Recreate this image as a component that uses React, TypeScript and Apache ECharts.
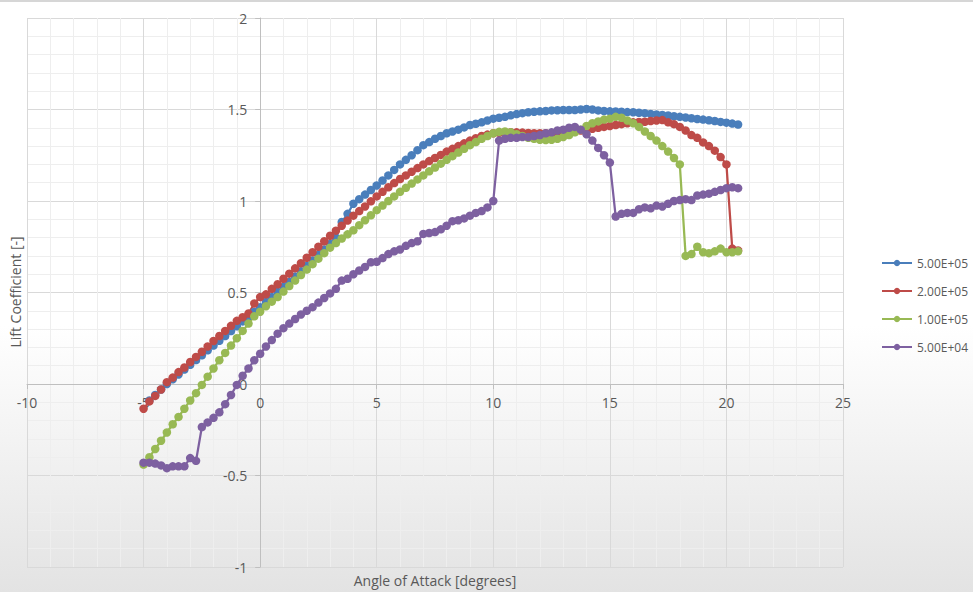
import React, { useEffect, useRef } from "react";
import * as echarts from "echarts";

// Angle of attack [degrees] shared by all four Reynolds-number sweeps
const alpha = [
  -5, -4.75, -4.5, -4.25,
  -4, -3.75, -3.5, -3.25,
  -3, -2.75, -2.5, -2.25,
  -2, -1.75, -1.5, -1.25,
  -1, -0.75, -0.5, -0.25,
  0, 0.25, 0.5, 0.75,
  1, 1.25, 1.5, 1.75,
  2, 2.25, 2.5, 2.75,
  3, 3.25, 3.5, 3.75,
  4, 4.25, 4.5, 4.75,
  5, 5.25, 5.5, 5.75,
  6, 6.25, 6.5, 6.75,
  7, 7.25, 7.5, 7.75,
  8, 8.25, 8.5, 8.75,
  9, 9.25, 9.5, 9.75,
  10, 10.25, 10.5, 10.75,
  11, 11.25, 11.5, 11.75,
  12, 12.25, 12.5, 12.75,
  13, 13.25, 13.5, 13.75,
  14, 14.25, 14.5, 14.75,
  15, 15.25, 15.5, 15.75,
  16, 16.25, 16.5, 16.75,
  17, 17.25, 17.5, 17.75,
  18, 18.25, 18.5, 18.75,
  19, 19.25, 19.5, 19.75,
  20, 20.25, 20.5,
];

const cl500k = [
  null, -0.09, -0.06, -0.03,
  0.0, 0.026, 0.052, 0.079,
  0.105, 0.131, 0.157, 0.184,
  0.21, 0.236, 0.262, 0.289,
  0.315, 0.342, 0.368, 0.394,
  0.42, 0.448, 0.475, 0.503,
  0.53, 0.558, 0.587, 0.616,
  0.645, 0.675, 0.705, 0.735,
  0.765, 0.8, 0.885, 0.93,
  0.985, 1.01, 1.035, 1.06,
  1.085, 1.112, 1.14, 1.17,
  1.2, 1.225, 1.25, 1.278,
  1.305, 1.322, 1.34, 1.355,
  1.37, 1.38, 1.39, 1.402,
  1.415, 1.422, 1.43, 1.44,
  1.45, 1.455, 1.46, 1.468,
  1.475, 1.48, 1.485, 1.488,
  1.49, 1.492, 1.495, 1.496,
  1.497, 1.497, 1.497, 1.5,
  1.503, 1.5, 1.495, 1.492,
  1.49, 1.489, 1.488, 1.486,
  1.485, 1.482, 1.48, 1.476,
  1.473, 1.47, 1.467, 1.463,
  1.46, 1.456, 1.452, 1.448,
  1.445, 1.441, 1.437, 1.432,
  1.428, 1.423, 1.418,
];

const cl200k = [
  -0.135, -0.095, -0.065, -0.03,
  0.01, 0.035, 0.065, 0.09,
  0.12, 0.148, 0.176, 0.205,
  0.235, 0.262, 0.29, 0.318,
  0.345, 0.365, 0.385, 0.44,
  0.475, 0.49, 0.52, 0.545,
  0.575, 0.603, 0.632, 0.66,
  0.69, 0.72, 0.75, 0.78,
  0.81, 0.838, 0.865, 0.893,
  0.92, 0.945, 0.97, 0.998,
  1.025, 1.05, 1.075, 1.098,
  1.12, 1.14, 1.16, 1.18,
  1.2, 1.218, 1.235, 1.252,
  1.27, 1.285, 1.3, 1.315,
  1.33, 1.343, 1.355, 1.363,
  1.37, 1.373, 1.375, 1.376,
  1.375, 1.374, 1.372, 1.37,
  1.37, 1.37, 1.37, 1.372,
  1.375, 1.378, 1.38, 1.385,
  1.39, 1.395, 1.4, 1.405,
  1.41, 1.415, 1.42, 1.425,
  1.43, 1.432, 1.433, 1.437,
  1.44, 1.442, 1.43, 1.42,
  1.405, 1.385, 1.36, 1.345,
  1.32, 1.3, 1.275, 1.24,
  1.2, 0.74, 0.73,
];

const cl100k = [
  -0.44, -0.4, -0.355, -0.31,
  -0.265, -0.22, -0.18, -0.135,
  -0.09, -0.05, -0.005, 0.04,
  0.085, 0.13, 0.17, 0.21,
  0.25, 0.29, 0.33, 0.37,
  0.395, 0.425, 0.45, 0.475,
  0.505, 0.535, 0.565, 0.595,
  0.625, 0.655, 0.685, 0.715,
  0.745, 0.77, 0.795, 0.818,
  0.84, 0.868, 0.895, 0.922,
  0.95, 0.975, 1.0, 1.025,
  1.05, 1.072, 1.095, 1.118,
  1.14, 1.162, 1.183, 1.204,
  1.225, 1.245, 1.265, 1.285,
  1.305, 1.322, 1.34, 1.355,
  1.37, 1.378, 1.38, 1.375,
  1.365, 1.355, 1.345, 1.34,
  1.335, 1.333, 1.335, 1.34,
  1.35, 1.36, 1.375, 1.39,
  1.41, 1.425, 1.435, 1.445,
  1.45, 1.46, 1.455, 1.44,
  1.425, 1.405, 1.38, 1.355,
  1.33, 1.3, 1.27, 1.235,
  1.2, 0.7, 0.71, 0.75,
  0.72, 0.715, 0.725, 0.74,
  0.72, 0.72, 0.725,
];

const cl50k = [
  -0.43, -0.43, -0.435, -0.445,
  -0.46, -0.45, -0.45, -0.45,
  -0.405, -0.42, -0.235, -0.21,
  -0.185, -0.155, -0.11, -0.06,
  -0.005, 0.045, 0.085, 0.13,
  0.165, 0.205, 0.24, 0.275,
  0.305, 0.33, 0.355, 0.38,
  0.4, 0.42, 0.445, 0.47,
  0.495, 0.52, 0.565, 0.575,
  0.6, 0.62, 0.64, 0.665,
  0.668, 0.688, 0.71, 0.725,
  0.735, 0.755, 0.77, 0.78,
  0.82, 0.825, 0.83, 0.845,
  0.865, 0.89, 0.895, 0.905,
  0.92, 0.935, 0.945, 0.965,
  1.0, 1.33, 1.34, 1.345,
  1.345, 1.35, 1.35, 1.355,
  1.36, 1.37, 1.375, 1.385,
  1.39, 1.4, 1.405, 1.39,
  1.365, 1.33, 1.29, 1.25,
  1.21, 0.915, 0.93, 0.935,
  0.935, 0.955, 0.965, 0.96,
  0.975, 0.97, 0.985, 1.0,
  1.005, 1.01, 1.005, 1.03,
  1.035, 1.04, 1.05, 1.06,
  1.07, 1.075, 1.07,
];

const seriesNames = ["5.00E+05", "2.00E+05", "1.00E+05", "5.00E+04"];
const seriesValues = [cl500k, cl200k, cl100k, cl50k];
const seriesColors = ["#4A7EBB", "#BE4B48", "#98B954", "#7D60A0"];

const xTitle = "Angle of Attack [degrees]";
const yTitle = "Lift Coefficient [-]";

const FONT = '"Open Sans", "DejaVu Sans", sans-serif';

// plot-area geometry (pixels)
const GRID_LEFT = 27;
const GRID_RIGHT = 130;
const GRID_TOP = 18;
const GRID_BOTTOM = 25;
const X_MIN = -10;
const X_MAX = 25;
const Y_MIN = -1;
const Y_MAX = 2;

export default function App() {
  const ref = useRef<HTMLDivElement>(null);

  useEffect(() => {
    if (!ref.current) return;
    const chart = echarts.init(ref.current, null, { renderer: "svg" });

    const plotW = 973 - GRID_LEFT - GRID_RIGHT;
    const plotH = 592 - GRID_TOP - GRID_BOTTOM;
    // shift axes so that they cross at zero (Excel style)
    const xAxisOffset = -((0 - Y_MIN) / (Y_MAX - Y_MIN)) * plotH;
    const yAxisOffset = -((0 - X_MIN) / (X_MAX - X_MIN)) * plotW;

    const series = seriesNames.map((name, i) => ({
      name,
      type: "line",
      data: alpha
        .map((a, j) => [a, seriesValues[i][j]])
        .filter((p) => p[1] !== null),
      symbol: "circle",
      symbolSize: 8.5,
      showAllSymbol: true,
      lineStyle: { width: 2.25, color: seriesColors[i] },
      itemStyle: { color: seriesColors[i] },
      emphasis: { disabled: true },
    }));

    chart.setOption({
      animation: false,
      textStyle: { fontFamily: FONT },
      backgroundColor: new echarts.graphic.LinearGradient(0, 0, 0, 1, [
        { offset: 0, color: "#ffffff" },
        { offset: 0.55, color: "#ffffff" },
        { offset: 1, color: "#e3e3e3" },
      ]),
      grid: {
        left: GRID_LEFT,
        right: GRID_RIGHT,
        top: GRID_TOP,
        bottom: GRID_BOTTOM,
        containLabel: false,
        outerBoundsMode: "none",
      },
      xAxis: {
        type: "value",
        min: X_MIN,
        max: X_MAX,
        interval: 5,
        position: "bottom",
        offset: xAxisOffset,
        axisLine: { show: true, onZero: false, lineStyle: { color: "#bfbfbf", width: 1 } },
        axisTick: { show: true, length: 5, lineStyle: { color: "#bfbfbf" } },
        axisLabel: { color: "#595959", fontSize: 14, margin: 11, fontFamily: FONT },
        splitLine: { show: true, lineStyle: { color: "#d9d9d9", width: 1 } },
        minorTick: { show: false, splitNumber: 5 },
        minorSplitLine: { show: true, lineStyle: { color: "#eeeeee", width: 1 } },
      },
      yAxis: {
        type: "value",
        min: Y_MIN,
        max: Y_MAX,
        interval: 0.5,
        position: "left",
        offset: yAxisOffset,
        axisLine: { show: true, onZero: false, lineStyle: { color: "#bfbfbf", width: 1 } },
        axisTick: { show: true, length: 5, lineStyle: { color: "#bfbfbf" } },
        axisLabel: { color: "#595959", fontSize: 14, margin: 13, fontFamily: FONT },
        splitLine: { show: true, lineStyle: { color: "#d9d9d9", width: 1 } },
        minorTick: { show: false, splitNumber: 5 },
        minorSplitLine: { show: true, lineStyle: { color: "#eeeeee", width: 1 } },
      },
      legend: {
        data: seriesNames,
        orient: "vertical",
        left: 876,
        top: 251,
        itemWidth: 30,
        itemHeight: 8,
        itemGap: 14,
        textStyle: { color: "#595959", fontSize: 12, lineHeight: 14, fontFamily: FONT },
      },
      graphic: [
        {
          type: "rect",
          shape: { x: 0, y: 0, width: 973, height: 2 },
          style: { fill: "#d6d6d6" },
          silent: true,
        },
        {
          type: "text",
          x: 435,
          y: 580,
          style: {
            text: xTitle,
            fill: "#595959",
            font: `14px ${FONT}`,
            textAlign: "center",
            textVerticalAlign: "middle",
          },
          silent: true,
        },
        {
          type: "text",
          x: 15,
          y: 292,
          rotation: Math.PI / 2,
          style: {
            text: yTitle,
            fill: "#595959",
            font: `14px ${FONT}`,
            textAlign: "center",
            textVerticalAlign: "middle",
          },
          silent: true,
        },
      ],
      series,
    });

    return () => chart.dispose();
  }, []);

  return (
    <div
      ref={ref}
      style={{ position: "fixed", left: 0, top: 0, width: 973, height: 592 }}
    />
  );
}
